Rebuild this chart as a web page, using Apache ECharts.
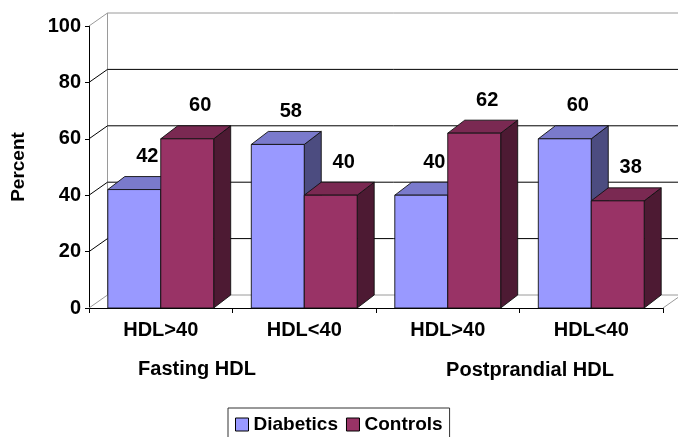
<!DOCTYPE html>
<html>
<head>
<meta charset="utf-8">
<script src="https://cdn.jsdelivr.net/npm/echarts@6/dist/echarts.min.js"></script>
<style>
  html, body { margin: 0; padding: 0; background: #fff; }
  #chart { width: 678px; height: 437px; }
</style>
</head>
<body>
<div id="chart"></div>
<script>
// HDL categories and the percentage of each group falling into them
const categories = ['HDL>40', 'HDL<40', 'HDL>40', 'HDL<40'];
const groupNames = ['Fasting HDL', 'Postprandial HDL'];
const diabetics = [42, 58, 40, 60];
const controls = [60, 40, 62, 38];
const yTicks = [0, 20, 40, 60, 80, 100];

const FONT = 'Liberation Sans, Arial, sans-serif';
const WALL_DX = 18.5, WALL_DY = -13;
const BAR_DX = 17, BAR_DY = -13;

const chart = echarts.init(document.getElementById('chart'), null, { renderer: 'canvas' });

// Back wall, side wall and floor lines for each y tick
function wallRenderer(params, api) {
  const v = api.value(1);
  const cs = params.coordSys;
  const y = api.coord([0, v])[1];
  const left = cs.x, right = cs.x + cs.width;
  const edge = (v === yTicks[0] || v === yTicks[yTicks.length - 1]);
  const stroke = edge ? '#9a9a9a' : '#000';
  const children = [
    { type: 'line', shape: { x1: left, y1: y, x2: left + WALL_DX, y2: y + WALL_DY }, style: { stroke: stroke, lineWidth: 1 } },
    { type: 'line', shape: { x1: left + WALL_DX, y1: y + WALL_DY, x2: right + WALL_DX, y2: y + WALL_DY }, style: { stroke: stroke, lineWidth: 1 } }
  ];
  if (v === yTicks[0]) {
    const yTop = api.coord([0, yTicks[yTicks.length - 1]])[1];
    children.push(
      { type: 'line', shape: { x1: left + WALL_DX, y1: y + WALL_DY, x2: left + WALL_DX, y2: yTop + WALL_DY }, style: { stroke: '#9a9a9a', lineWidth: 1 } },
      { type: 'line', shape: { x1: right, y1: y, x2: right + WALL_DX, y2: y + WALL_DY }, style: { stroke: '#9a9a9a', lineWidth: 1 } }
    );
  }
  return { type: 'group', children: children };
}

// 3D-looking column: front face, top face, right side face and value label
function barRenderer(front, top, side, slot) {
  return function (params, api) {
    const i = api.value(0), v = api.value(1);
    const band = api.size([1, 0])[0];
    const w = band * 0.369;
    const c = api.coord([i, v]);
    const b = api.coord([i, 0]);
    const x0 = slot === 0 ? c[0] - w : c[0];
    const x1 = x0 + w;
    const yt = c[1], yb = b[1];
    const edge = { stroke: '#111', lineWidth: 0.9, lineJoin: 'round' };
    return {
      type: 'group',
      children: [
        { type: 'polygon', shape: { points: [[x1, yt], [x1 + BAR_DX, yt + BAR_DY], [x1 + BAR_DX, yb + BAR_DY], [x1, yb]] },
          style: Object.assign({ fill: side }, edge) },
        { type: 'polygon', shape: { points: [[x0, yt], [x0 + BAR_DX, yt + BAR_DY], [x1 + BAR_DX, yt + BAR_DY], [x1, yt]] },
          style: Object.assign({ fill: top }, edge) },
        { type: 'rect', shape: { x: x0, y: yt, width: w, height: yb - yt },
          style: Object.assign({ fill: front }, edge) },
        { type: 'text', x: (x0 + x1) / 2 + 13, y: yt - 33,
          style: { text: String(v), font: 'bold 20px ' + FONT, fill: '#000', align: 'center', verticalAlign: 'middle' } }
      ]
    };
  };
}

const option = {
  animation: false,
  backgroundColor: '#fff',
  textStyle: { fontFamily: FONT },
  grid: { left: 89, right: 15, top: 26, bottom: 129, containLabel: false, outerBoundsMode: 'none' },
  xAxis: {
    type: 'category',
    data: categories,
    boundaryGap: true,
    axisLine: { lineStyle: { color: '#000', width: 1 } },
    axisTick: { show: true, length: 5, lineStyle: { color: '#000' } },
    axisLabel: { color: '#000', fontSize: 20, fontWeight: 'bold', fontFamily: FONT, margin: 12, interval: 0 },
    splitLine: { show: false }
  },
  yAxis: {
    type: 'value',
    min: 0, max: 100, interval: 20,
    name: 'Percent',
    nameLocation: 'middle',
    nameRotate: 90,
    nameGap: 61,
    nameTextStyle: { color: '#000', fontSize: 19, fontWeight: 'bold', fontFamily: FONT },
    axisLine: { show: true, lineStyle: { color: '#000', width: 1 } },
    axisTick: { show: true, length: 4, lineStyle: { color: '#000' } },
    axisLabel: { color: '#000', fontSize: 20, fontWeight: 'bold', fontFamily: FONT, margin: 8 },
    splitLine: { show: false }
  },
  legend: {
    left: 228, top: 408,
    padding: [7, 7, 7, 7],
    itemGap: 8,
    itemWidth: 13, itemHeight: 13,
    icon: 'rect',
    borderColor: '#333', borderWidth: 1,
    textStyle: { color: '#000', fontSize: 19, fontWeight: 'bold', fontFamily: FONT },
    data: [
      { name: 'Diabetics', itemStyle: { color: '#9999FF', borderColor: '#000', borderWidth: 1 } },
      { name: 'Controls', itemStyle: { color: '#993366', borderColor: '#000', borderWidth: 1 } }
    ]
  },
  graphic: [
    { type: 'text', x: 197, y: 369, style: { text: groupNames[0], font: 'bold 20px ' + FONT, fill: '#000', align: 'center', verticalAlign: 'middle' } },
    { type: 'text', x: 530, y: 370, style: { text: groupNames[1], font: 'bold 20px ' + FONT, fill: '#000', align: 'center', verticalAlign: 'middle' } }
  ],
  series: [
    {
      name: 'walls', type: 'custom', z: 1, silent: true,
      renderItem: wallRenderer,
      data: yTicks.map(function (t) { return [0, t]; })
    },
    {
      name: 'Diabetics', type: 'custom', z: 2,
      itemStyle: { color: '#9999FF' },
      renderItem: barRenderer('#9999FF', '#7A7ACC', '#4C4C80', 0),
      data: diabetics.map(function (v, i) { return [i, v]; })
    },
    {
      name: 'Controls', type: 'custom', z: 3,
      itemStyle: { color: '#993366' },
      renderItem: barRenderer('#993366', '#7A2952', '#4D1A33', 1),
      data: controls.map(function (v, i) { return [i, v]; })
    }
  ]
};

chart.setOption(option);
</script>
</body>
</html>
